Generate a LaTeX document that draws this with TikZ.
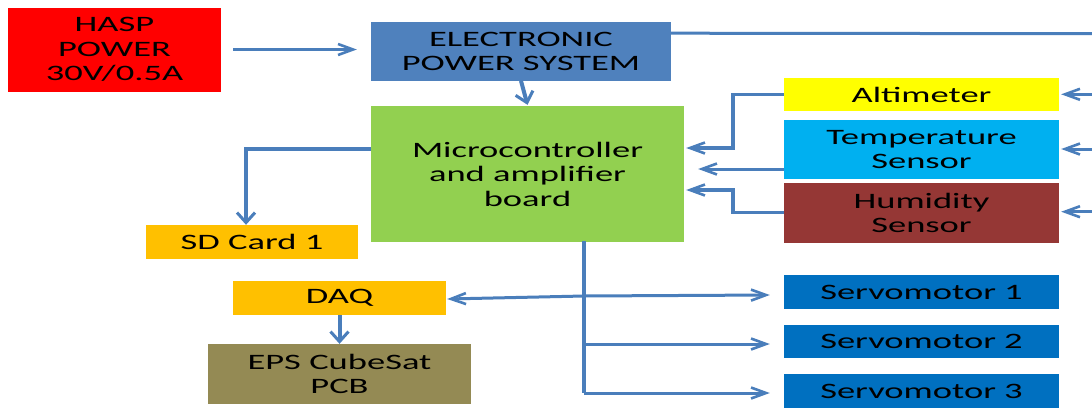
\documentclass[tikz,border=0pt]{standalone}
\usepackage{fontspec}
\setmainfont{Carlito}[FakeStretch=1.66]
\usetikzlibrary{arrows.meta,calc}
\definecolor{haspred}{HTML}{FF0000}
\definecolor{epsblue}{HTML}{4F81BD}
\definecolor{mcugreen}{HTML}{92D050}
\definecolor{altyellow}{HTML}{FFFF00}
\definecolor{tempblue}{HTML}{00B0F0}
\definecolor{humbrown}{HTML}{953735}
\definecolor{sdorange}{HTML}{FFC000}
\definecolor{pcbolive}{HTML}{948A54}
\definecolor{servoblue}{HTML}{0070C0}
\definecolor{wireblue}{HTML}{4A7EBB}
\tikzset{
  blk/.style={draw=none, inner sep=0pt, align=center, text=black,
    font=\fontsize{22}{24.5}\selectfont},
  wire/.style={draw=wireblue, line width=3pt},
  harrow/.style={wire, -{Straight Barb[length=15pt,width=11pt,line width=2.6pt]}},
  varrow/.style={wire, line width=4pt, -{Straight Barb[length=10pt,width=18pt,line width=3pt]}},
}
\begin{document}
\begin{tikzpicture}[x=1pt,y=-1pt]
\fill[white] (0,0) rectangle (1092,408);
\useasboundingbox (0,0) rectangle (1092,408);

% boxes
\node[blk, fill=haspred, minimum width=213pt, minimum height=84pt] (hasp) at (114.5,49.5) {HASP\\POWER\\30V/0.5A};
\node[blk, fill=epsblue, minimum width=300pt, minimum height=59pt] (eps) at (521,51.2) {ELECTRONIC\\POWER SYSTEM};
\node[blk, fill=mcugreen, minimum width=313pt, minimum height=136pt] (mcu) at (527.5,174) {Microcontroller\\and amplifier\\board};
\node[blk, fill=altyellow, minimum width=275pt, minimum height=33pt] (alt) at (921.5,94.5) {Altimeter};
\node[blk, fill=tempblue, minimum width=275pt, minimum height=59pt] (temp) at (921.5,149.5) {Temperature\\Sensor};
\node[blk, fill=humbrown, minimum width=275pt, minimum height=60pt] (hum) at (921.5,213) {Humidity\\Sensor};
\node[blk, fill=sdorange, minimum width=212pt, minimum height=34pt] (sd) at (252,242) {SD Card 1};
\node[blk, fill=sdorange, minimum width=213pt, minimum height=34pt] (daq) at (339.5,298) {DAQ};
\node[blk, fill=pcbolive, minimum width=263pt, minimum height=60pt] (pcb) at (339.5,374) {EPS CubeSat\\PCB};
\node[blk, fill=servoblue, minimum width=275pt, minimum height=34pt] (s1) at (921.5,292) {Servomotor 1};
\node[blk, fill=servoblue, minimum width=275pt, minimum height=33pt] (s2) at (921.5,341.5) {Servomotor 2};
\node[blk, fill=servoblue, minimum width=275pt, minimum height=34pt] (s3) at (921.5,391) {Servomotor 3};

% free ends at the right edge
\coordinate (edgeTop) at (1092,33.7);
\coordinate (edgeAlt) at (1092,94.3);
\coordinate (edgeTemp) at (1092,149);
\coordinate (edgeHum) at (1092,211.7);

% trunk junctions
\coordinate (t0) at (584,241);
\coordinate (j1) at (584,296);
\coordinate (j2) at (584,344);
\coordinate (j3) at (584,393);

% power connections
\draw[harrow] ([xshift=12pt]hasp.east) -- ([xshift=-14pt]eps.west |- hasp.east);
\draw[wire] ([yshift=-11.7pt]eps.north east) -- (edgeTop);
\draw[varrow] (eps.south) -- ([yshift=1pt]mcu.north);

% right edge into sensors
\draw[harrow] (edgeAlt) -- ([xshift=2pt]alt.east |- edgeAlt);
\draw[harrow] (edgeTemp) -- ([xshift=2pt]temp.east |- edgeTemp);
\draw[harrow] (edgeHum) -- ([xshift=2pt]hum.east |- edgeHum);

% sensors into microcontroller
\draw[harrow, line width=3.4pt] (alt.west) -- ++(-51,0) |- ([xshift=2pt]mcu.east |- 0,148);
\draw[harrow] (temp.west |- 0,169) -- ([xshift=14pt]mcu.east |- 0,169);
\draw[harrow, line width=3.4pt] (hum.west |- 0,212.3) -- ++(-51,0) |- ([xshift=2pt]mcu.east |- 0,190);

% microcontroller to SD card
\draw[wire, line width=3.4pt, -{Straight Barb[length=10pt,width=18pt,line width=3pt]}] (mcu.west |- 0,149) -| ([xshift=-6pt]sd.north);

% trunk and outputs
\draw[wire, line width=4.3pt] (t0) -- (j3);
\draw[harrow] (j1) -- ([xshift=1pt]daq.east |- 0,299);
\draw[harrow] (j1) -- ([xshift=-14pt]s1.west |- 0,295);
\draw[harrow] (j2) -- ([xshift=-14pt]s2.west |- j2);
\draw[harrow] (j3) -- ([xshift=-14pt]s3.west |- j3);

% DAQ to PCB
\draw[varrow] (daq.south) -- (pcb.north);
\end{tikzpicture}
\end{document}
